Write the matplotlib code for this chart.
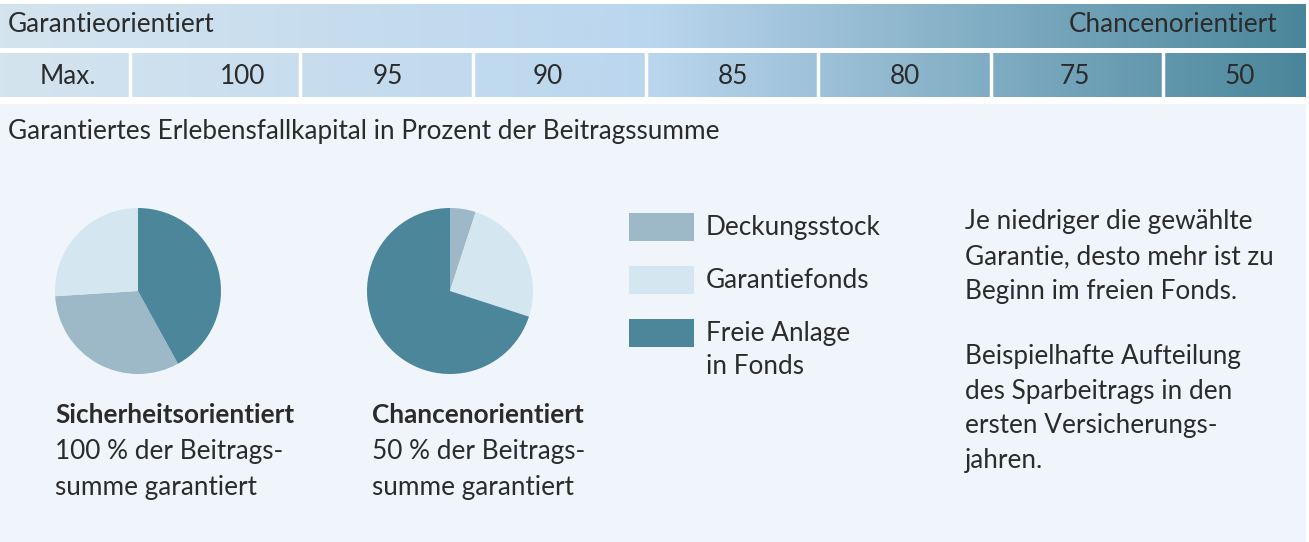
import numpy as np
import matplotlib
matplotlib.use("Agg")
import matplotlib.pyplot as plt
from matplotlib.colors import LinearSegmentedColormap

# Data
categories = [["Deckungsstock"], ["Garantiefonds"], ["Freie Anlage", "in Fonds"]]
profiles = ["Sicherheitsorientiert", "Chancenorientiert"]
guarantee_text = [["100 % der Beitrags-", "summe garantiert"],
                  ["50 % der Beitrags-", "summe garantiert"]]
deckungsstock = [32, 5]
garantiefonds = [26, 25]
freie_anlage = [42, 70]
guarantee_levels = ["Max.", "100", "95", "90", "85", "80", "75", "50"]
note_lines = ["Je niedriger die gewählte", "Garantie, desto mehr ist zu",
              "Beginn im freien Fonds.", "", "Beispielhafte Aufteilung",
              "des Sparbeitrags in den", "ersten Versicherungs-", "jahren."]

colors = ["#9db9c7", "#d4e6ef", "#4c869b"]
text_col = "#2b2b2b"
bg_col = "#eff5fa"

W, H = 1309, 542
plt.rcParams['font.family'] = ['Lato', 'DejaVu Sans']

fig = plt.figure(figsize=(W / 100, H / 100), dpi=100)
fig.patch.set_facecolor("white")
ax = fig.add_axes([0, 0, 1, 1])
ax.set_xlim(0, W)
ax.set_ylim(H, 0)
ax.axis("off")

# light background of the lower panel
ax.add_patch(plt.Rectangle((0, 104), 1306, H - 104, color=bg_col, lw=0))

# gradient bands
grad = LinearSegmentedColormap.from_list(
    "band", [(0, "#d4e4ee"), (0.5, "#bad6ee"), (1, "#4a869b")])
g = np.linspace(0, 1, 512).reshape(1, -1)
for y0, y1 in [(4, 48), (53, 97)]:
    ax.imshow(g, cmap=grad, aspect="auto", extent=(0, 1306, y1, y0), zorder=1)

# cell separators in the second band
for x in [130, 300, 473, 646, 818, 991, 1163]:
    ax.plot([x, x], [53, 97], color="white", lw=2.5, zorder=2)

fs = 18.8
ax.text(8, 25, "Garantieorientiert", fontsize=fs, color=text_col, va="center", zorder=3)
ax.text(1277, 25, "Chancenorientiert", fontsize=fs, color=text_col, va="center", ha="right", zorder=3)

label_x = [68, 243, 388, 548, 733, 905, 1075, 1240]
for x, lab in zip(label_x, guarantee_levels):
    ax.text(x, 76, lab, fontsize=fs, color=text_col, va="center", ha="center", zorder=3)

ax.text(8, 131, "Garantiertes Erlebensfallkapital in Prozent der Beitragssumme",
        fontsize=fs, color=text_col, va="center")

# pies
centers = [(138, 291), (450, 291)]
r = 83
startangles = [90 - 360 * freie_anlage[0] / 100, 90]
for i, (cx, cy) in enumerate(centers):
    pax = fig.add_axes([(cx - r) / W, 1 - (cy + r) / H, 2 * r / W, 2 * r / H])
    vals = [deckungsstock[i], garantiefonds[i], freie_anlage[i]]
    pax.pie(vals, colors=colors, startangle=startangles[i], counterclock=False,
            wedgeprops=dict(linewidth=0))
    pax.set_xlim(-1, 1)
    pax.set_ylim(-1, 1)
    pax.axis("off")

profile_x = [55, 372]
for x, name, sub in zip(profile_x, profiles, guarantee_text):
    ax.text(x, 415, name, fontsize=fs, fontweight="bold", color=text_col, va="center")
    for k, line in enumerate(sub):
        ax.text(x, 452 + 36 * k, line, fontsize=fs, color=text_col, va="center")

# legend
leg_y = [227, 280, 333]
for y, c, lab in zip(leg_y, colors, categories):
    ax.add_patch(plt.Rectangle((629, y - 14), 65, 28, color=c, lw=0))
    for k, line in enumerate(lab):
        ax.text(706, y + 1 + 33 * k, line, fontsize=fs, color=text_col, va="center")

# note text
for k, line in enumerate(note_lines):
    if line:
        ax.text(965, 222 + 34.6 * k + (0 if k < 3 else -4), line,
                fontsize=fs, color=text_col, va="center")

fig.savefig("out.png", dpi=100, facecolor="white")
